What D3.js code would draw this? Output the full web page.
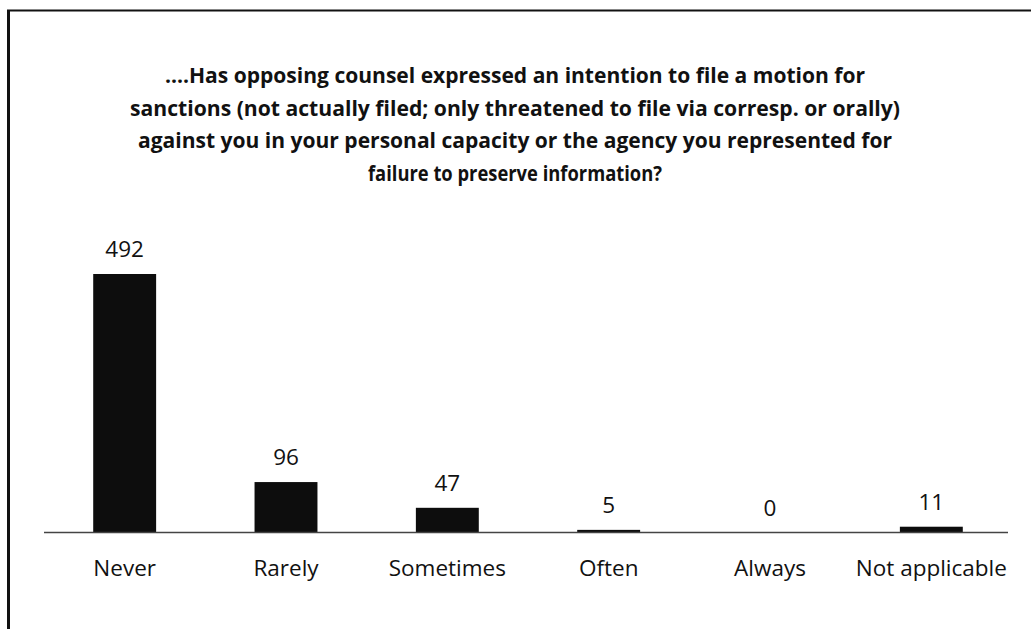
<!DOCTYPE html>
<html>
<head>
<meta charset="utf-8">
<script src="https://cdn.jsdelivr.net/npm/d3@7"></script>
<style>
  html, body { margin: 0; padding: 0; background: #fff; }
  svg { display: block; }
</style>
</head>
<body>
<svg id="chart" width="1031" height="629"></svg>
<script>
const categories = ["Never", "Rarely", "Sometimes", "Often", "Always", "Not applicable"];
const values = [492, 96, 47, 5, 0, 11];
const titleLines = [
  "....Has opposing counsel expressed an intention to file a motion for",
  "sanctions (not actually filed; only threatened to file via corresp. or orally)",
  "against you in your personal capacity or the agency you represented for",
  "failure to preserve information?"
];
const titleWidths = [700, 770, 754, 294];

const svg = d3.select("#chart");
const W = 1031, H = 629;

// frame
svg.append("line").attr("x1", 7).attr("x2", W).attr("y1", 10.5).attr("y2", 10.5)
  .attr("stroke", "#111").attr("stroke-width", 2);
svg.append("line").attr("x1", 8.5).attr("x2", 8.5).attr("y1", 10).attr("y2", H)
  .attr("stroke", "#111").attr("stroke-width", 3);

// title
const title = svg.append("g");
titleLines.forEach((t, i) => {
  title.append("text")
    .attr("x", 515).attr("y", 83 + i * 32.5)
    .attr("text-anchor", "middle")
    .attr("font-family", "'Open Sans', sans-serif")
    .attr("font-weight", "bold")
    .attr("font-size", 22)
    .attr("fill", "#111")
    .attr("textLength", titleWidths[i])
    .attr("lengthAdjust", "spacingAndGlyphs")
    .text(t);
});

const x = d3.scaleBand().domain(categories).range([44, 1012]).paddingInner(0.61).paddingOuter(0.305);
const y = d3.scaleLinear().domain([0, 492]).range([532.5, 274]);

// bars
svg.append("g").selectAll("rect").data(values).join("rect")
  .attr("x", (d, i) => x(categories[i]))
  .attr("width", x.bandwidth())
  .attr("y", d => y(d))
  .attr("height", d => y(0) - y(d))
  .attr("fill", "#0d0d0d");

// axis baseline
const axis = d3.axisBottom(x).tickSize(0).tickPadding(24);
const gAxis = svg.append("g").attr("transform", `translate(0,${y(0)})`).call(axis);
gAxis.select(".domain").attr("d", "M44,0H1008").attr("stroke", "#444").attr("stroke-width", 1.5);
gAxis.selectAll(".tick text")
  .attr("font-family", "'Open Sans', sans-serif")
  .attr("font-size", 22.5)
  .attr("fill", "#111")
  .attr("dy", "0.71em")
  .attr("y", 28);

// value labels
svg.append("g").selectAll("text").data(values).join("text")
  .attr("x", (d, i) => x(categories[i]) + x.bandwidth() / 2)
  .attr("y", d => y(d) - 17)
  .attr("text-anchor", "middle")
  .attr("font-family", "'Open Sans', sans-serif")
  .attr("font-size", 22.5)
  .attr("fill", "#111")
  .text(d => d);
</script>
</body>
</html>
